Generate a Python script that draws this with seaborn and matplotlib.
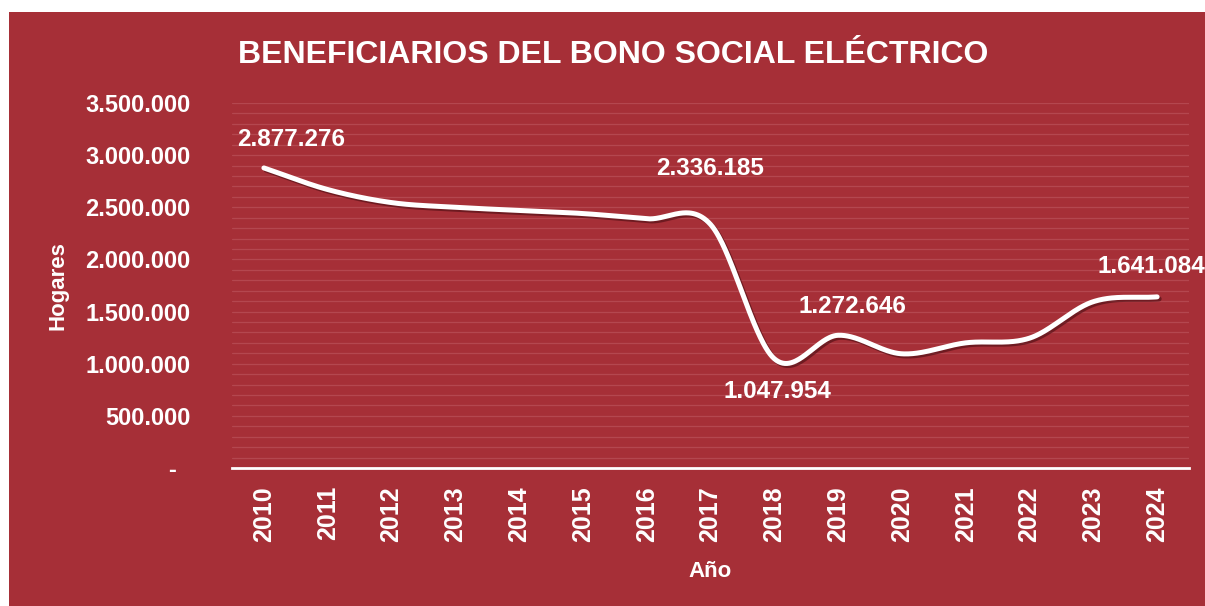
import numpy as np
import pandas as pd
import matplotlib
matplotlib.use("Agg")
import matplotlib.pyplot as plt
import matplotlib.patheffects as pe
from matplotlib.patches import Rectangle
from matplotlib.ticker import MultipleLocator, FuncFormatter
import seaborn as sns

# ---- data ----
years = [2010, 2011, 2012, 2013, 2014, 2015, 2016, 2017, 2018, 2019, 2020, 2021, 2022, 2023, 2024]
hogares = [2877276, 2670000, 2545000, 2500000, 2470000, 2440000, 2390000, 2336185,
           1047954, 1272646, 1095000, 1200000, 1245000, 1595000, 1641084]
labelled_years = [2010, 2017, 2018, 2019, 2024]
label_offsets_px = [(27, 28), (0, 56), (3, -33), (14, 29), (-6, 30)]

title = "BENEFICIARIOS DEL BONO SOCIAL ELÉCTRICO"
xlabel = "Año"
ylabel = "Hogares"

RED = "#A62F37"
GRID = "#B4474F"
WHITE = "#FFFFFF"

sns.set_theme(style="white")
plt.rcParams["font.family"] = ["Liberation Sans", "DejaVu Sans"]

def fmt_es(v):
    v = int(round(v))
    if v == 0:
        return "-  "
    return f"{v:,}".replace(",", ".")

# smooth curve (Catmull-Rom, as in spreadsheet smoothed lines)
pos = np.arange(len(years), dtype=float)
vals = np.array(hogares, dtype=float)
n = len(pos)
tang = np.zeros(n)
tang[1:-1] = (vals[2:] - vals[:-2]) / 2.0
tang[0] = vals[1] - vals[0]
tang[-1] = vals[-1] - vals[-2]
xs, ys = [], []
for i in range(n - 1):
    t = np.linspace(0, 1, 60, endpoint=(i == n - 2))
    h00 = 2 * t**3 - 3 * t**2 + 1
    h10 = t**3 - 2 * t**2 + t
    h01 = -2 * t**3 + 3 * t**2
    h11 = t**3 - t**2
    xs.append(pos[i] + t)
    ys.append(h00 * vals[i] + h10 * tang[i] + h01 * vals[i + 1] + h11 * tang[i + 1])
curve = pd.DataFrame({"x": np.concatenate(xs), "y": np.concatenate(ys)})

W, H = 1205, 606
fig = plt.figure(figsize=(W / 100, H / 100), dpi=100, facecolor="white")
fig.patches.append(Rectangle((9 / W, 0), 1 - 9 / W, 1 - 12 / H, transform=fig.transFigure,
                             facecolor=RED, edgecolor="none", zorder=-10))

left, right, top, bottom = 232, 1189, 103, 468
ax = fig.add_axes([left / W, (H - bottom) / H, (right - left) / W, (bottom - top) / H])
ax.set_facecolor(RED)

sns.lineplot(data=curve, x="x", y="y", ax=ax, color=WHITE, linewidth=3.6, sort=False,
             solid_capstyle="round",
             path_effects=[pe.SimpleLineShadow(offset=(1.5, -1.5), shadow_color="#4a0d12", alpha=0.6),
                           pe.Normal()])

ax.set_xlim(-0.5, len(years) - 0.5)
ax.set_ylim(0, 3500000)
ax.set_xticks(pos)
ax.set_xticklabels([str(y) for y in years], rotation=90, fontsize=18, fontweight="bold", color=WHITE)
ax.yaxis.set_major_locator(MultipleLocator(500000))
ax.yaxis.set_minor_locator(MultipleLocator(100000))
ax.yaxis.set_major_formatter(FuncFormatter(lambda v, p: fmt_es(v)))
for lab in ax.get_yticklabels():
    lab.set_fontsize(17)
    lab.set_fontweight("bold")
    lab.set_color(WHITE)
ax.tick_params(axis="y", which="both", length=0, pad=30)
ax.tick_params(axis="x", length=0, pad=13)

ax.grid(True, axis="y", which="both", color=GRID, alpha=1.0, linewidth=0.9)
ax.grid(False, axis="x")
ax.set_axisbelow(True)
for s in ["top", "right", "left"]:
    ax.spines[s].set_visible(False)
ax.spines["bottom"].set_color(WHITE)
ax.spines["bottom"].set_linewidth(2.0)
ax.spines["bottom"].set_zorder(1)

ax.set_xlabel(xlabel, fontsize=16, fontweight="bold", color=WHITE, labelpad=14)
ax.set_ylabel(ylabel, fontsize=16, fontweight="bold", color=WHITE, labelpad=12)

for yr, (dx, dy) in zip(labelled_years, label_offsets_px):
    i = years.index(yr)
    ax.annotate(fmt_es(hogares[i]), xy=(pos[i], hogares[i]), xytext=(dx, dy),
                textcoords="offset pixels", ha="center", va="center",
                fontsize=17.5, fontweight="bold", color=WHITE)

fig.text(613 / W, 1 - 63 / H, title, ha="center", va="baseline",
         fontsize=23, fontweight="bold", color=WHITE)

fig.savefig("out.png", dpi=100, facecolor="white")
